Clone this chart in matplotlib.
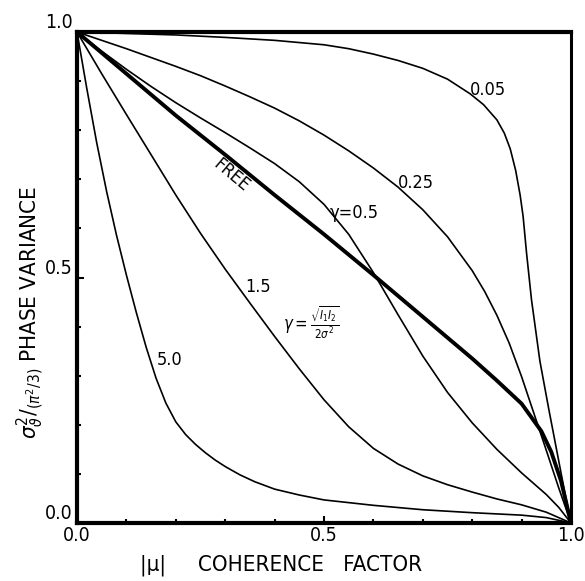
import matplotlib.pyplot as plt

plt.rcParams['font.family'] = ['DejaVu Sans']
plt.rcParams['font.stretch'] = 'condensed'
plt.rcParams['mathtext.fontset'] = 'dejavusans'

# coherence factor |mu| -> normalised phase variance
x_005 = [0, 0.1, 0.2, 0.3, 0.4, 0.5, 0.55, 0.6, 0.65, 0.7, 0.75, 0.796, 0.823,
         0.85, 0.865, 0.877, 0.888, 0.897, 0.903, 0.910, 0.92, 0.937, 0.955,
         0.972, 0.985, 1.0]
y_005 = [1, 0.997, 0.994, 0.989, 0.983, 0.974, 0.966, 0.955, 0.942, 0.926,
         0.904, 0.874, 0.852, 0.821, 0.794, 0.762, 0.718, 0.668, 0.625, 0.550,
         0.455, 0.330, 0.232, 0.143, 0.075, 0]

x_025 = [0, 0.05, 0.1, 0.15, 0.2, 0.25, 0.3, 0.35, 0.4, 0.45, 0.5, 0.55, 0.6,
         0.65, 0.7, 0.75, 0.8, 0.825, 0.85, 0.875, 0.9, 0.925, 0.95, 0.975,
         1.0]
y_025 = [1, 0.983, 0.966, 0.948, 0.930, 0.911, 0.890, 0.868, 0.845, 0.819,
         0.790, 0.758, 0.723, 0.684, 0.638, 0.583, 0.514, 0.472, 0.423, 0.366,
         0.298, 0.223, 0.148, 0.072, 0]

x_05 = [0, 0.05, 0.1, 0.15, 0.2, 0.25, 0.3, 0.35, 0.4, 0.45, 0.5, 0.55, 0.6,
        0.65, 0.7, 0.75, 0.8, 0.85, 0.9, 0.95, 0.975, 1.0]
y_05 = [1, 0.961, 0.924, 0.889, 0.856, 0.825, 0.795, 0.764, 0.732, 0.695,
        0.649, 0.588, 0.510, 0.424, 0.340, 0.266, 0.204, 0.150, 0.102, 0.058,
        0.032, 0]

x_free = [0, 0.1, 0.2, 0.3, 0.4, 0.5, 0.6, 0.7, 0.8, 0.85, 0.9, 0.92, 0.94,
          0.96, 0.98, 1.0]
y_free = [1, 0.915, 0.83, 0.75, 0.668, 0.588, 0.505, 0.42, 0.335, 0.29,
          0.243, 0.215, 0.187, 0.145, 0.085, 0]

x_15 = [0, 0.05, 0.1, 0.15, 0.2, 0.25, 0.3, 0.35, 0.4, 0.45, 0.5, 0.55, 0.6,
        0.65, 0.7, 0.75, 0.8, 0.85, 0.9, 0.95, 1.0]
y_15 = [1, 0.915, 0.832, 0.75, 0.668, 0.59, 0.517, 0.448, 0.38, 0.314,
        0.251, 0.196, 0.152, 0.12, 0.096, 0.078, 0.063, 0.049, 0.037, 0.022, 0]

x_50 = [0, 0.02, 0.04, 0.06, 0.08, 0.1, 0.12, 0.14, 0.16, 0.18, 0.2, 0.22,
        0.24, 0.26, 0.28, 0.3, 0.33, 0.36, 0.4, 0.45, 0.5, 0.6, 0.7, 0.8,
        0.9, 0.95, 1.0]
y_50 = [1, 0.884, 0.774, 0.675, 0.586, 0.505, 0.429, 0.358, 0.295, 0.244,
        0.206, 0.180, 0.160, 0.143, 0.128, 0.115, 0.098, 0.084, 0.069, 0.057,
        0.047, 0.036, 0.027, 0.021, 0.016, 0.011, 0]

x_ticks = [0, 0.5, 1.0]
x_ticklabels = ['0.0', '0.5', '1.0']
y_ticks = [0, 0.5, 1.0]
y_ticklabels = ['0.0', '0.5', '1.0']
minor_ticks = [0.1, 0.2, 0.3, 0.4, 0.6, 0.7, 0.8, 0.9]


fig = plt.figure(figsize=(5.85, 5.81), dpi=100, facecolor='white')
ax = fig.add_axes([77 / 585, 58 / 581, 494 / 585, 491 / 581])

thin = dict(color='black', lw=1.2, solid_joinstyle='round')
ax.plot(x_005, y_005, **thin)
ax.plot(x_025, y_025, **thin)
ax.plot(x_05, y_05, **thin)
ax.plot(x_15, y_15, **thin)
ax.plot(x_50, y_50, **thin)
ax.plot(x_free, y_free, color='black', lw=2.8, solid_joinstyle='round')

ax.set_xlim(0, 1)
ax.set_ylim(0, 1)

# curve labels
lab = dict(fontsize=13, ha='center', va='center')
ax.text(0.832, 0.882, '0.05', **lab)
ax.text(0.686, 0.692, '0.25', **lab)
ax.text(0.561, 0.631, 'γ=0.5', **lab)
ax.text(0.312, 0.708, 'FREE', rotation=-40, **lab)
ax.text(0.366, 0.481, '1.5', **lab)
ax.text(0.188, 0.332, '5.0', **lab)
ax.text(0.474, 0.407, r'$\gamma=\frac{\sqrt{I_1 I_2}}{2\sigma^2}$',
        fontsize=12, ha='center', va='center')

for side in ['left', 'top', 'bottom']:
    ax.spines[side].set_linewidth(3)
ax.spines['right'].set_linewidth(2.2)

ax.set_xticks(x_ticks)
ax.set_xticklabels(x_ticklabels, fontsize=14)
ax.set_yticks(y_ticks)
ax.set_yticklabels(y_ticklabels, fontsize=14, va='bottom')
ax.set_xticks(minor_ticks, minor=True)
ax.set_yticks(minor_ticks, minor=True)
ax.tick_params(which='major', direction='in', length=5, width=1.5, pad=2)
ax.tick_params(axis='y', which='major', pad=3)
ax.tick_params(which='minor', direction='in', length=3, width=1.5)

fig.text(140 / 585, 1 - 565 / 581, '|μ|     COHERENCE   FACTOR',
         fontsize=16, ha='left', va='center')
fig.text(30 / 585, 1 - 312 / 581,
         r'$\sigma^{2}_{\vartheta}/_{(\pi^{2}/3)}$ PHASE VARIANCE',
         fontsize=16, rotation=90, ha='center', va='center')

plt.savefig('out.png', dpi=100)
